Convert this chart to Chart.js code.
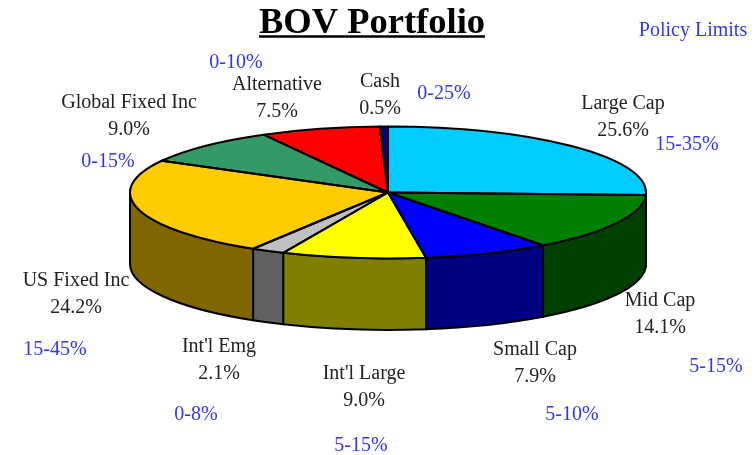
<!DOCTYPE html>
<html><head><meta charset="utf-8">
<style>html,body{margin:0;padding:0;background:#fff}canvas{display:block}</style>
<script src="https://cdn.jsdelivr.net/npm/chart.js@4"></script>
</head><body><canvas id="c" width="755" height="455"></canvas>
<script>
const categories = ["Large Cap","Mid Cap","Small Cap","Int'l Large","Int'l Emg","US Fixed Inc","Global Fixed Inc","Alternative","Cash"];
const weights = [25.6,14.1,7.9,9.0,2.1,24.2,9.0,7.5,0.5];
const policyLimits = ["15-35%","5-15%","5-10%","5-15%","0-8%","15-45%","0-15%","0-10%","0-25%"];
const topColors = ["#00CCFF","#008000","#0000FF","#FFFF00","#C0C0C0","#FFCC00","#339966","#FF0000","#000080"];
const sideColors = ["#006680","#004000","#000080","#808000","#606060","#806600","#1A4D33","#800000","#000040"];
const titleText = "BOV Portfolio";
const policyHeading = "Policy Limits";

// Layout (screen pixels)
const PIE = {cx:388, cy:192.5, rx:258, ry:66, depth:71.5};
const labelPos = [[623,104],[660,301],[535,350],[364,374],[219,347],[76,281],[129,103],[277,85],[380,82]];
const limitPos = [[687,145],[716,367],[572,415],[361,446],[196,415],[55,350],[108,162],[236,63],[444,94]];
const headingPos = [693,31];
const LABEL_GAP = 27;
const LABEL_FONT = "20px 'Liberation Serif'";
const LABEL_COLOR = "#222222";
const LIMIT_COLOR = "#3333FF";

const pie3d = {
  id:'pie3d',
  beforeDatasetsDraw(chart){
    const ctx = chart.ctx, arcs = chart.getDatasetMeta(0).data;
    const px = a => PIE.cx + PIE.rx*Math.cos(a), py = a => PIE.cy + PIE.ry*Math.sin(a);
    ctx.save();
    ctx.lineWidth = 2; ctx.strokeStyle = "#000"; ctx.lineJoin = "round";
    arcs.forEach((arc,i) => {
      const s = Math.max(arc.startAngle,0), e = Math.min(arc.endAngle,Math.PI);
      if (e <= s) return;
      ctx.beginPath();
      ctx.moveTo(px(s),py(s));
      ctx.ellipse(PIE.cx,PIE.cy,PIE.rx,PIE.ry,0,s,e,false);
      ctx.lineTo(px(e),py(e)+PIE.depth);
      ctx.ellipse(PIE.cx,PIE.cy+PIE.depth,PIE.rx,PIE.ry,0,e,s,true);
      ctx.closePath();
      ctx.fillStyle = sideColors[i];
      ctx.fill();
      ctx.stroke();
    });
    ctx.restore();
    const a0 = arcs[0], r = a0.outerRadius;
    ctx.save();
    ctx.translate(PIE.cx,PIE.cy);
    ctx.scale(PIE.rx/r,PIE.ry/r);
    ctx.translate(-a0.x,-a0.y);
  },
  afterDatasetsDraw(chart){
    const ctx = chart.ctx, arcs = chart.getDatasetMeta(0).data;
    ctx.restore();
    ctx.save();
    ctx.lineWidth = 2; ctx.strokeStyle = "#000"; ctx.lineJoin = "round";
    arcs.forEach(arc => {
      ctx.beginPath();
      ctx.moveTo(PIE.cx,PIE.cy);
      ctx.ellipse(PIE.cx,PIE.cy,PIE.rx,PIE.ry,0,arc.startAngle,arc.endAngle,false);
      ctx.closePath();
      ctx.stroke();
    });
    ctx.restore();

    ctx.save();
    ctx.textAlign = "center"; ctx.textBaseline = "middle";
    ctx.font = LABEL_FONT;
    categories.forEach((name,i) => {
      const [x,y] = labelPos[i];
      ctx.fillStyle = LABEL_COLOR;
      ctx.fillText(name,x,y);
      ctx.fillText(weights[i].toFixed(1)+"%",x,y+LABEL_GAP);
      ctx.fillStyle = LIMIT_COLOR;
      ctx.fillText(policyLimits[i],limitPos[i][0],limitPos[i][1]);
    });
    ctx.fillStyle = LIMIT_COLOR;
    ctx.fillText(policyHeading,headingPos[0],headingPos[1]);
    ctx.restore();

    // title underline
    const t = chart.titleBlock;
    ctx.save();
    ctx.font = "bold 36.5px 'Liberation Serif'";
    const w = ctx.measureText(titleText).width, mid = t.left + t.width/2;
    ctx.strokeStyle = "#000"; ctx.lineWidth = 2.5;
    ctx.beginPath(); ctx.moveTo(mid-w/2,36.5); ctx.lineTo(mid+w/2,36.5); ctx.stroke();
    ctx.restore();
  }
};

new Chart(document.getElementById('c'),{
  type:'pie',
  data:{labels:categories,datasets:[{data:weights,backgroundColor:topColors,borderWidth:0,clip:false}]},
  options:{
    responsive:false,animation:false,events:[],
    layout:{padding:{right:11}},
    plugins:{
      legend:{display:false},tooltip:{enabled:false},
      title:{display:true,text:titleText,color:"#000",padding:{top:2,bottom:0},
        font:{family:"'Liberation Serif'",size:36.5,weight:'bold'}}
    }
  },
  plugins:[pie3d]
});
</script></body></html>
